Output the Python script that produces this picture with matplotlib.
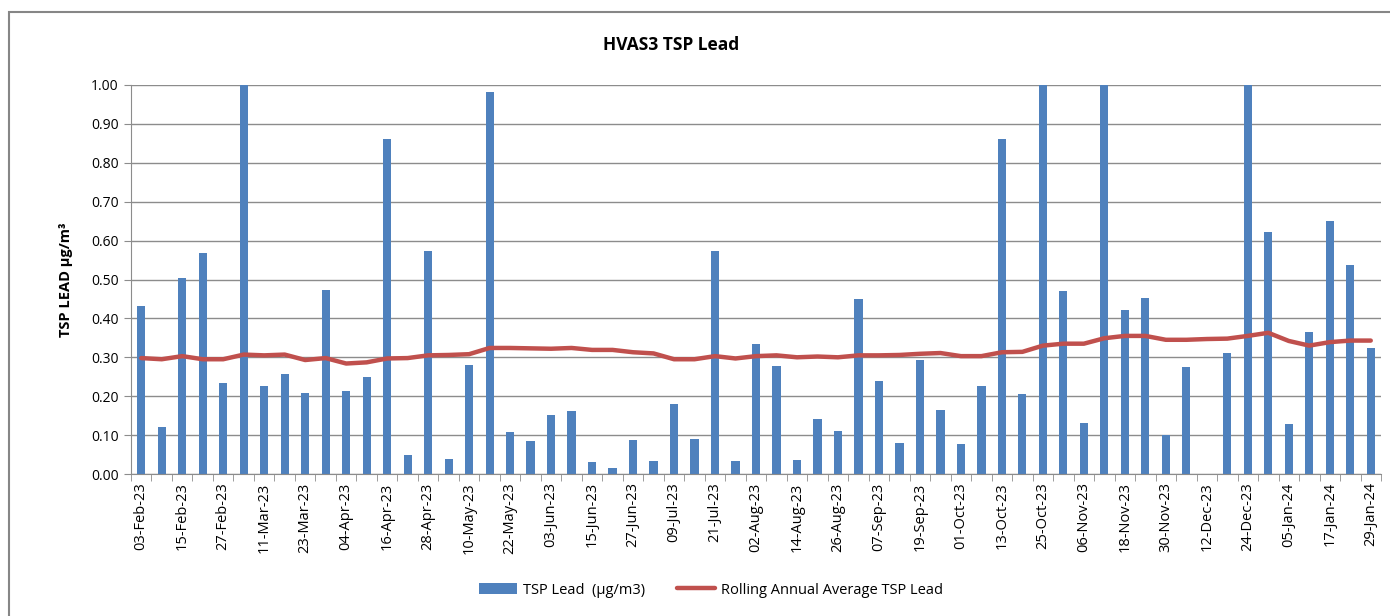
import numpy as np
import pandas as pd
import matplotlib
matplotlib.use('Agg')
import matplotlib.pyplot as plt
from matplotlib.patches import Rectangle

plt.rcParams['font.family'] = ['Open Sans', 'DejaVu Sans']

# sample dates, every 6 days
dates = pd.date_range('2023-02-03', periods=61, freq='6D')
date_labels = [d.strftime('%d-%b-%y') for d in dates]

# TSP lead (ug/m3), NaN = no sample
tsp_lead = [0.433, 0.120, 0.505, 0.567, 0.233, 1.00, 0.225, 0.256, 0.209, 0.472,
            0.214, 0.250, 0.860, 0.049, 0.574, 0.039, 0.280, 0.981, 0.107, 0.086,
            0.151, 0.162, 0.030, 0.016, 0.088, 0.033, 0.179, 0.090, 0.574, 0.033,
            0.335, 0.277, 0.036, 0.142, 0.110, 0.451, 0.239, 0.080, 0.294, 0.165,
            0.076, 0.225, 0.860, 0.206, 1.00, 0.470, 0.131, 1.00, 0.421, 0.453,
            0.099, 0.275, np.nan, 0.310, 1.00, 0.623, 0.129, 0.365, 0.651, 0.536,
            0.324]

# rolling annual average
rolling_avg = [0.298, 0.295, 0.303, 0.295, 0.295, 0.307, 0.305, 0.307, 0.293, 0.298,
               0.284, 0.287, 0.297, 0.298, 0.305, 0.306, 0.308, 0.324, 0.324, 0.323,
               0.322, 0.324, 0.319, 0.319, 0.313, 0.310, 0.295, 0.295, 0.303, 0.297,
               0.303, 0.305, 0.300, 0.302, 0.300, 0.305, 0.305, 0.306, 0.309, 0.311,
               0.303, 0.303, 0.313, 0.314, 0.330, 0.335, 0.335, 0.349, 0.355, 0.355,
               0.345, 0.345, 0.347, 0.348, 0.355, 0.363, 0.342, 0.330, 0.339, 0.343,
               0.343]

yticks = np.arange(0, 1.01, 0.1)

W, H = 1390, 616
fig = plt.figure(figsize=(W / 100, H / 100), dpi=100)
ax = fig.add_axes([131 / W, 1 - 474 / H, 1250 / W, 389 / H])

x = np.arange(len(dates))
bars = ax.bar(x, tsp_lead, width=0.4, color='#4F81BD', label='TSP Lead  (µg/m3)', zorder=2)
line, = ax.plot(x, rolling_avg, color='#C0504D', lw=3.2, solid_capstyle='round',
                label='Rolling Annual Average TSP Lead', zorder=3)

ax.set_xlim(-0.5, len(dates) - 0.5)
ax.set_ylim(0, 1.0)
ax.set_yticks(yticks)
ax.set_yticklabels(['%.2f' % v for v in yticks], fontsize=10)
ax.yaxis.grid(True, color='#8c8c8c', lw=1, zorder=0)
ax.set_axisbelow(True)

ax.set_xticks(x[::2])
ax.set_xticklabels(date_labels[::2], rotation=90, fontsize=10.5)
ax.set_xticks(np.arange(-0.5, len(dates)), minor=True)
ax.tick_params(axis='x', which='major', length=0, pad=6)
ax.tick_params(axis='x', which='minor', length=5, color='#8c8c8c')
ax.tick_params(axis='y', length=5, color='#8c8c8c', pad=4)

for s in ['top', 'right']:
    ax.spines[s].set_visible(False)
for s in ['left', 'bottom']:
    ax.spines[s].set_color('#8c8c8c')

fig.text(671 / W, 1 - 45 / H, 'HVAS3 TSP Lead', fontsize=12.5, fontweight='bold',
         ha='center', va='center')
fig.text(66 / W, 1 - 280 / H, 'TSP LEAD µg/m³', fontsize=10.5, fontweight='bold',
         rotation=90, ha='center', va='center')

fig.legend([bars, line], [bars.get_label(), line.get_label()],
           loc='center', bbox_to_anchor=(711 / W, 1 - 590 / H), ncol=2, frameon=False,
           fontsize=10.5, handlelength=2.6, columnspacing=2.2, handletextpad=0.4)

# outer chart frame
fig.patches.append(Rectangle((9 / W, -0.1), 1.2, 0.1 + 1 - 12 / H, transform=fig.transFigure,
                             fill=False, ec='#868686', lw=1.5))

fig.savefig('out.png', dpi=100)
